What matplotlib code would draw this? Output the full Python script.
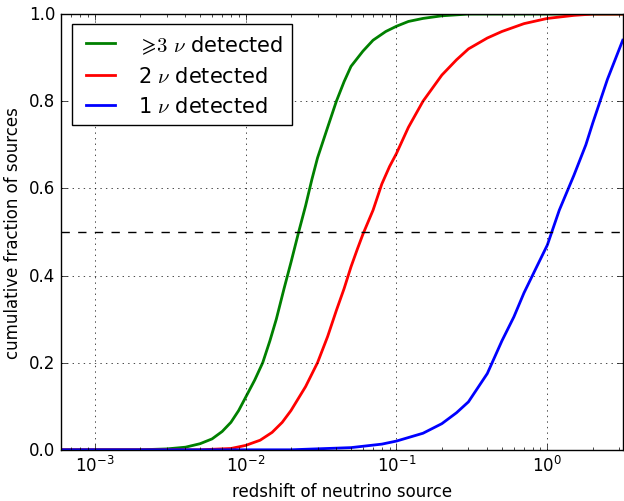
import numpy as np
import matplotlib
matplotlib.use('Agg')
import matplotlib.pyplot as plt

plt.style.use('classic')

z_green = [0.0006, 0.002, 0.003, 0.004, 0.005, 0.006, 0.007, 0.008, 0.009, 0.01, 0.0115, 0.013, 0.0145, 0.016, 0.018, 0.02, 0.0225, 0.025, 0.0275, 0.03, 0.035, 0.04, 0.045, 0.05, 0.06, 0.07, 0.085, 0.1, 0.12, 0.15, 0.2, 0.3, 3.16]
f_green = [0.0, 0.0, 0.002, 0.006, 0.014, 0.025, 0.042, 0.063, 0.09, 0.12, 0.16, 0.2, 0.25, 0.3, 0.37, 0.43, 0.5, 0.56, 0.62, 0.67, 0.74, 0.8, 0.845, 0.88, 0.915, 0.94, 0.96, 0.972, 0.983, 0.99, 0.996, 1.0, 1.0]

z_red = [0.0006, 0.005, 0.008, 0.01, 0.0125, 0.015, 0.0175, 0.02, 0.025, 0.03, 0.035, 0.04, 0.045, 0.05, 0.055, 0.06, 0.07, 0.08, 0.09, 0.1, 0.12, 0.15, 0.2, 0.25, 0.3, 0.4, 0.5, 0.7, 1.0, 1.5, 2.0, 3.16]
f_red = [0.0, 0.0, 0.003, 0.01, 0.022, 0.04, 0.063, 0.09, 0.145, 0.2, 0.26, 0.32, 0.37, 0.42, 0.46, 0.495, 0.55, 0.61, 0.65, 0.68, 0.74, 0.8, 0.86, 0.895, 0.92, 0.945, 0.96, 0.978, 0.99, 0.997, 1.0, 1.0]

z_blue = [0.0006, 0.02, 0.05, 0.08, 0.1, 0.15, 0.2, 0.25, 0.3, 0.4, 0.5, 0.6, 0.7, 0.85, 1.0, 1.2, 1.5, 1.8, 2.0, 2.5, 3.16]
f_blue = [0.0, 0.0, 0.005, 0.013, 0.02, 0.038, 0.06, 0.085, 0.11, 0.175, 0.25, 0.305, 0.36, 0.42, 0.47, 0.55, 0.63, 0.7, 0.75, 0.85, 0.94]

fig = plt.figure(figsize=(6.24, 5.02), dpi=100, facecolor='white')
ax = fig.add_axes([0.098, 0.102, 0.9, 0.868])

ax.plot(z_green, f_green, color='green', lw=2, label=r'$\geqslant\!3\ \nu$ detected')
ax.plot(z_red, f_red, color='red', lw=2, label=r'2 $\nu$ detected')
ax.plot(z_blue, f_blue, color='blue', lw=2, label=r'1 $\nu$ detected')
ax.axhline(0.5, color='black', ls='--')

ax.set_xscale('log')
ax.set_xlim(6e-4, 3.16)
ax.set_ylim(0, 1)
ax.grid(True)
ax.set_xlabel('redshift of neutrino source')
ax.set_ylabel('cumulative fraction of sources')
ax.legend(loc='upper left', fontsize=15, handlelength=2.0, borderaxespad=0.5)

plt.savefig('out.png', dpi=100, facecolor='white')
